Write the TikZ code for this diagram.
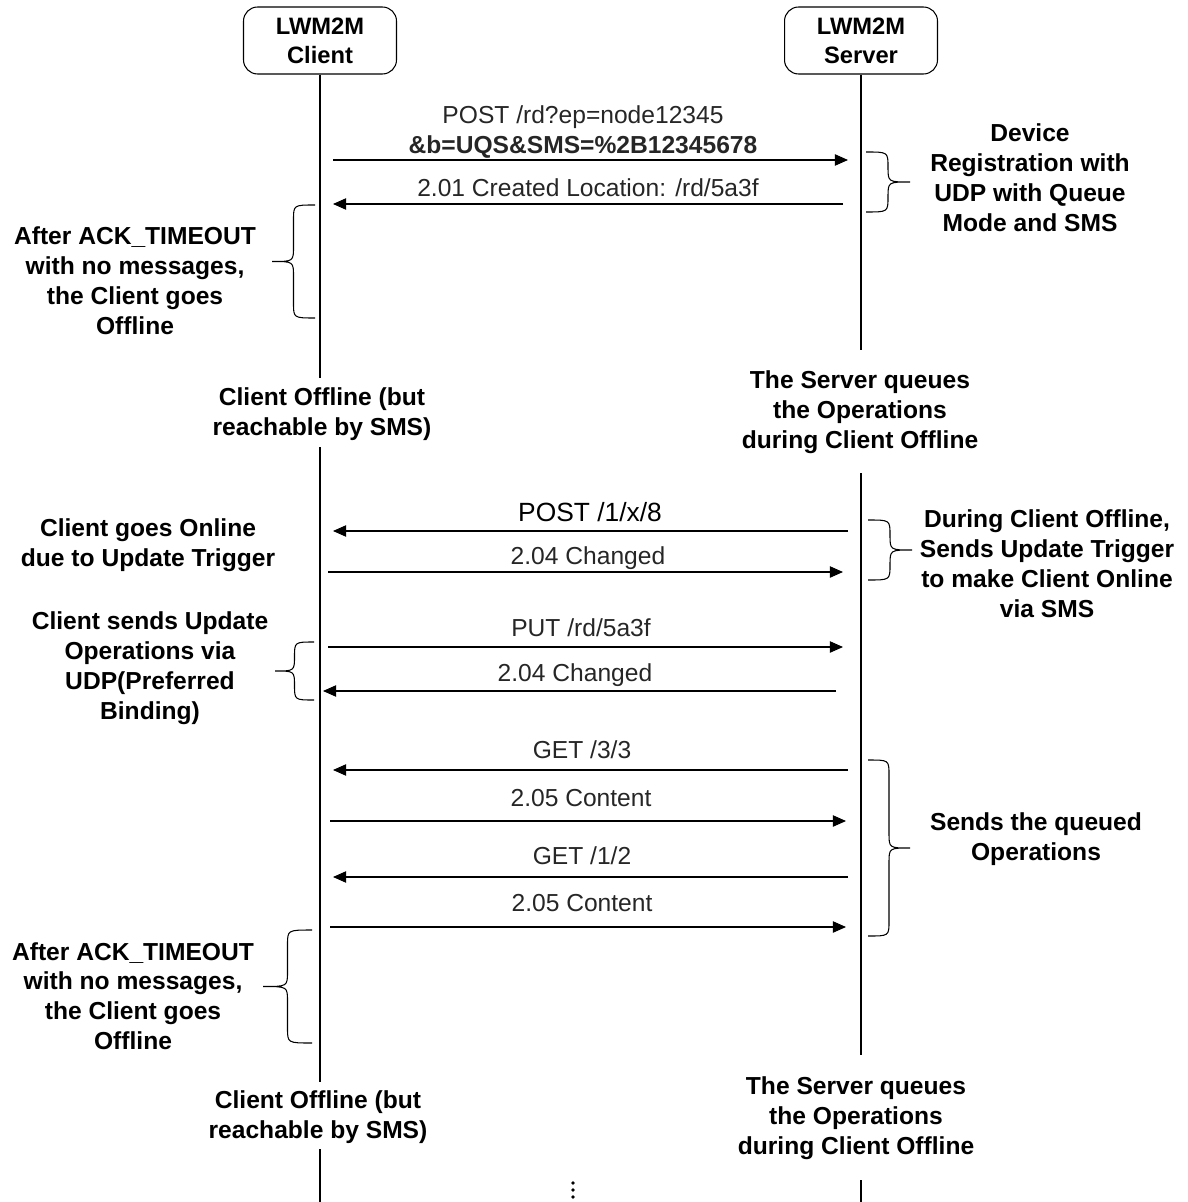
\documentclass[tikz,border=0pt]{standalone}
\usepackage{fontspec}
\setmainfont{Liberation Sans}
\usetikzlibrary{arrows.meta}

% curly brace: open side x, top y, bottom y, tip x
\newcommand\curly[4]{%
  \pgfmathsetmacro\bxm{(#1+#4)/2}%
  \pgfmathsetmacro\bym{(#2+#3)/2}%
  \draw[brc] (#1,#2) .. controls (\bxm,#2) .. (\bxm,#2+15)
    -- (\bxm,\bym-15) .. controls (\bxm,\bym) .. (#4,\bym)
    .. controls (\bxm,\bym) .. (\bxm,\bym+15)
    -- (\bxm,#3-15) .. controls (\bxm,#3) .. (#1,#3);
}

\tikzset{
  actor/.style={draw, line width=0.6pt, rounded corners=8pt, minimum width=3.06cm,
    minimum height=1.34cm, align=center, inner sep=0pt,
    font=\bfseries\fontsize{13.5}{16.5}\selectfont},
  note/.style={align=center, inner sep=0pt, font=\bfseries\fontsize{14}{17}\selectfont},
  lbl/.style={align=center, inner sep=0pt, text=black!85, font=\fontsize{14}{17}\selectfont},
  msg/.style={line width=0.6pt, -{Triangle[length=7.5pt,width=6.5pt]}},
  life/.style={line width=0.6pt},
  brc/.style={line width=0.6pt}
}

\begin{document}
\begin{tikzpicture}[x=0.02cm,y=-0.02cm]
    \useasboundingbox (0,0) rectangle (1187,1202);

    % actors
    \node[actor] (client) at (320,40.5) {LWM2M\\Client};
    \node[actor] (server) at (861,40.5) {LWM2M\\Server};

    % lifelines, broken where the offline notes sit
    \coordinate (cl1) at (320,378);  \coordinate (cl2) at (320,447);
    \coordinate (cl3) at (320,1082); \coordinate (cl4) at (320,1149);
    \coordinate (cl5) at (320,1202);
    \coordinate (sl1) at (861,350);  \coordinate (sl2) at (861,473);
    \coordinate (sl3) at (861,1055); \coordinate (sl4) at (861,1180);
    \coordinate (sl5) at (861,1202);
    \draw[life] (client.south) -- (cl1) (cl2) -- (cl3) (cl4) -- (cl5);
    \draw[life] (server.south) -- (sl1) (sl2) -- (sl3) (sl4) -- (sl5);

    % messages
    \foreach \n/\y/\xa/\xb in {1/160/333/848, 2/204/843/333, 3/531/848/333,
        4/572/328/843, 5/647/328/843, 6/691/836/323, 7/770/848/333,
        8/821/330/846, 9/877/848/333, 10/927/330/846}{
      \coordinate (m\n-a) at (\xa,\y);
      \coordinate (m\n-b) at (\xb,\y);
      \draw[msg] (m\n-a) -- (m\n-b);
    }

    % message labels
    \node[lbl] (t1) at (583,132) {POST /rd?ep=node12345\\\textbf{\&b=UQS\&SMS=\%2B12345678}};
    \node[lbl] (t2) at (588,188) {2.01 Created Location: /rd/5a3f};
    \node[lbl,text=black,font=\fontsize{15}{17}\selectfont] (t3) at (590,512) {POST /1/x/8};
    \node[lbl] (t4) at (588,558) {2.04 Changed};
    \node[lbl] (t5) at (581,628) {PUT /rd/5a3f};
    \node[lbl] (t6) at (575,675) {2.04 Changed};
    \node[lbl] (t7) at (582,750) {GET /3/3};
    \node[lbl] (t8) at (581,798) {2.05 Content};
    \node[lbl] (t9) at (582,856) {GET /1/2};
    \node[lbl] (t10) at (582,903) {2.05 Content};

    % braces
    \curly{866}{152}{212}{910}
    \curly{315}{205}{318}{272}
    \curly{868}{520}{580}{912}
    \curly{314}{642}{700}{275}
    \curly{868}{760}{936}{910}
    \curly{312}{930}{1043}{263}

    % notes
    \node[note] (reg) at (1030,178) {Device\\Registration with\\UDP with Queue\\Mode and SMS};
    \node[note] (ack1) at (135,281) {After ACK\_TIMEOUT\\with no messages,\\the Client goes\\Offline};
    \node[note] (coff1) at (322,414) {Client Offline (but\\reachable by SMS)};
    \node[note] (sq1) at (860,412) {The Server queues\\the Operations\\during Client Offline};
    \node[note] (online) at (148,545) {Client goes Online\\due to Update Trigger};
    \node[note] (trig) at (1047,564) {During Client Offline,\\Sends Update Trigger\\to make Client Online\\via SMS};
    \node[note] (upd) at (150,668) {Client sends Update\\Operations via\\UDP(Preferred\\Binding)};
    \node[note] (queued) at (1036,839) {Sends the queued\\Operations};
    \node[note] (ack2) at (133,996) {After ACK\_TIMEOUT\\with no messages,\\the Client goes\\Offline};
    \node[note] (coff2) at (318,1117) {Client Offline (but\\reachable by SMS)};
    \node[note] (sq2) at (856,1118) {The Server queues\\the Operations\\during Client Offline};

    % continuation dots
    \foreach \y in {1183,1190,1197}
      \fill (573,\y) circle (1.8);
\end{tikzpicture}
\end{document}
